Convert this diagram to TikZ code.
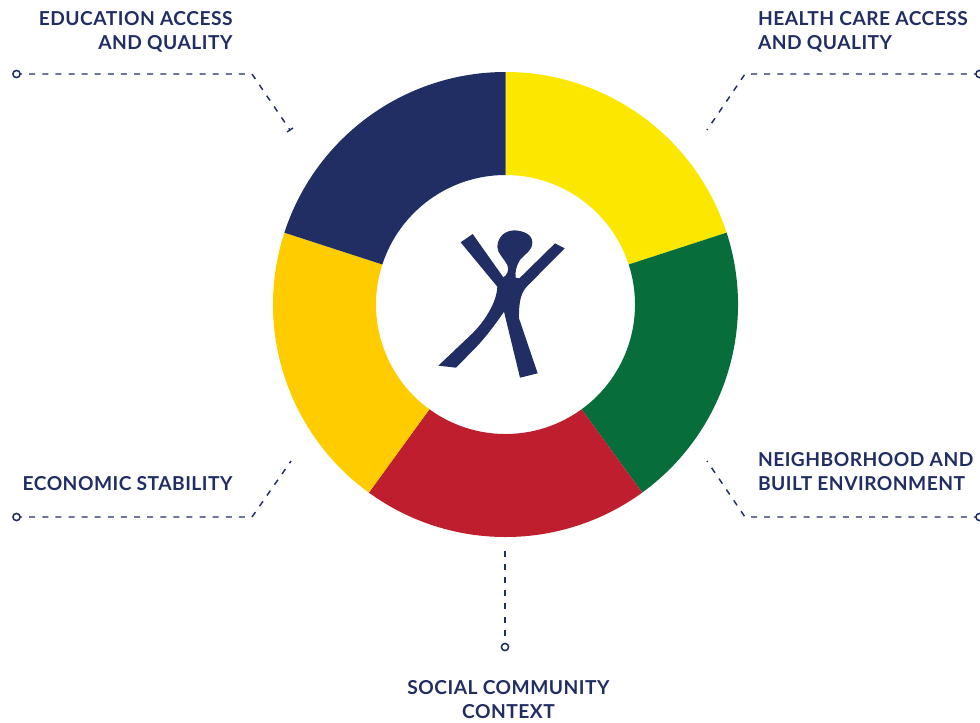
\documentclass[tikz,border=0pt]{standalone}
\usepackage{fontspec}
\setmainfont{Lato}[LetterSpace=2.5]
\definecolor{navy}{HTML}{212E63}
\definecolor{cyellow}{HTML}{FBE700}
\definecolor{cgreen}{HTML}{066D3B}
\definecolor{cred}{HTML}{BE1E2D}
\definecolor{cgold}{HTML}{FFCC00}
\tikzset{
  lab/.style={text=navy,font=\bfseries\fontsize{14.4}{18}\selectfont,inner sep=0pt,outer sep=0pt},
  leader/.style={draw=navy,line width=1.1pt,dash pattern=on 4.5pt off 5.33pt,dash phase=3pt},
  drop/.style={draw=navy,line width=1.1pt,dash pattern=on 4.5pt off 5.33pt},
  endring/.style={circle,draw=navy,fill=white,line width=1.15pt,minimum size=5.4pt,inner sep=0pt,outer sep=0pt},
  tickmark/.style={draw=navy,line width=1.1pt}
}
\newcommand{\slice}[3]{\fill[#1] (505.5,304.5) ++(#2:232.5) arc[start angle=#2,end angle=#3,radius=232.5] -- ($(505.5,304.5)+(#3:129.5)$) arc[start angle=#3,end angle=#2,radius=129.5] -- cycle;}
\usetikzlibrary{calc}
\begin{document}
\begin{tikzpicture}[x=0.75pt,y=-0.75pt]
\path[use as bounding box,clip] (0,0) rectangle (980,722);
% Ring: in this y-flipped frame, angles run clockwise on the page
\slice{cyellow}{-90}{-18}
\slice{cgreen}{-18}{54}
\slice{cred}{54}{126}
\slice{cgold}{126}{198}
\slice{navy}{198}{270}
% Figure
\begin{scope}[shift={(420,215)},x=0.25pt,y=-0.25pt]
\fill[navy] (122,82) -- (158,57) -- (250,187)
  .. controls (262,180) and (268,165) .. (262,150)
  .. controls (252,130) and (232,115) .. (232,95)
  .. controls (234,62) and (258,46) .. (285,46)
  .. controls (312,48) and (336,58) .. (337,82)
  .. controls (337,108) and (316,115) .. (300,135)
  .. controls (290,150) and (284,172) .. (287,188)
  -- (298,190) -- (405,85) -- (434,100) -- (322,213)
  .. controls (305,230) and (296,255) .. (297,310)
  -- (353,475) -- (300,488) -- (252,290)
  .. controls (225,330) and (190,375) .. (165,400)
  -- (108,458) -- (55,452) -- (150,362)
  .. controls (190,325) and (230,265) .. (232,215)
  -- cycle;
\end{scope}
% End points
\node[endring] (c1) at (16.5,74) {};
\node[endring] (c2) at (979.5,74) {};
\node[endring] (c3) at (16.5,517) {};
\node[endring] (c4) at (979.5,517) {};
\node[endring] (c5) at (505,647) {};
\coordinate (k1) at (252,74);
\coordinate (e1) at (290,130);
\coordinate (k2) at (745,74);
\coordinate (e2) at (707,130);
\coordinate (k3) at (252,517);
\coordinate (e3) at (291,461);
\coordinate (k4) at (745,517);
\coordinate (e4) at (707,461);
\coordinate (e5) at (505,551);
\coordinate (t1) at (287,132);
\coordinate (t2) at (293,128);
\draw[leader] (c1) -- (k1) -- (e1);
\draw[tickmark] (t1) -- (t2);
\draw[leader] (c2) -- (k2) -- (e2);
\draw[leader] (c3) -- (k3) -- (e3);
\draw[leader] (c4) -- (k4) -- (e4);
\draw[drop] (e5) -- (c5);
% Labels
\node[lab,align=right,anchor=north east] (l1) at (232.5,11.5) {EDUCATION ACCESS\\AND QUALITY};
\node[lab,align=left,anchor=north west] (l2) at (758,11.5) {HEALTH CARE ACCESS\\AND QUALITY};
\node[lab,align=right,anchor=north east] (l3) at (232.5,476.5) {ECONOMIC STABILITY};
\node[lab,align=left,anchor=north west] (l4) at (758,452.5) {NEIGHBORHOOD AND\\BUILT ENVIRONMENT};
\node[lab,align=center,anchor=north] (l5) at (508.5,680.5) {SOCIAL COMMUNITY\\CONTEXT};
\end{tikzpicture}
\end{document}
